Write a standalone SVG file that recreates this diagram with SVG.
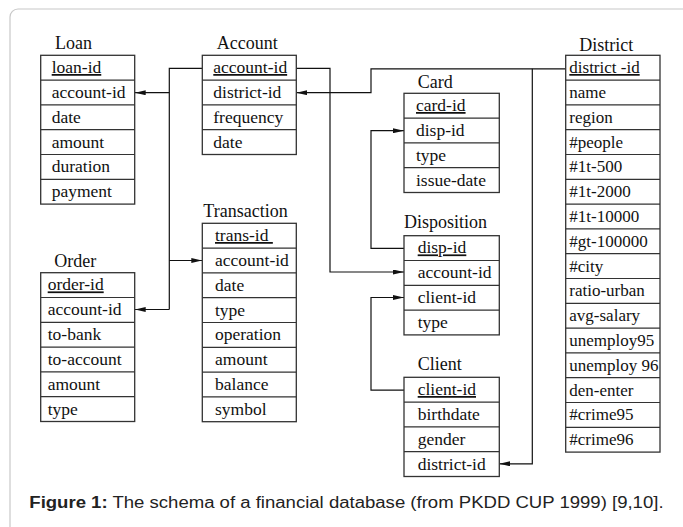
<svg xmlns="http://www.w3.org/2000/svg" width="683" height="527" viewBox="0 0 683 527">
<style>
.frame{fill:#fff;stroke:#c8c8c8;stroke-width:1.2}
.box{fill:#fff;stroke:#333;stroke-width:1.3}
.sep{stroke:#333;stroke-width:1.2}
.title{font-family:"Liberation Serif","Times New Roman",serif;font-size:18px;fill:#111}
.f{font-family:"Liberation Serif","Times New Roman",serif;font-size:17.5px;fill:#111}
.fd{font-family:"Liberation Serif","Times New Roman",serif;font-size:17px;fill:#111}
.key{text-decoration:underline}
.conn{fill:none;stroke:#111;stroke-width:1.2}
.cap{font-family:"Liberation Sans",Arial,sans-serif;font-size:16px;fill:#222}
</style>
<defs>
<marker id="ah" viewBox="0 0 11 5" refX="11" refY="2.5" markerWidth="11" markerHeight="5" orient="auto" markerUnits="userSpaceOnUse">
<path d="M0,0 L11,2.5 L0,5 z" fill="#111"/>
</marker>
</defs>
<rect class="frame" x="10" y="9" width="720" height="580" rx="8"/>

<g id="connectors">
<polyline class="conn" points="202.3,68.3 169.3,68.3 169.3,309.5"/>
<polyline class="conn" points="169.3,92.7 134.7,92.7" marker-end="url(#ah)"/>
<polyline class="conn" points="169.3,260.5 202.3,260.5" marker-end="url(#ah)"/>
<polyline class="conn" points="169.3,309.5 134.7,309.5" marker-end="url(#ah)"/>
<polyline class="conn" points="296.3,68.3 330,68.3 330,272 404,272" marker-end="url(#ah)"/>
<polyline class="conn" points="565.7,68.8 371,68.8 371,92.7 296.3,92.7" marker-end="url(#ah)"/>
<polyline class="conn" points="532.3,68.8 532.3,463.8 499.3,463.8" marker-end="url(#ah)"/>
<polyline class="conn" points="404,248.3 371,248.3 371,130.7 404,130.7" marker-end="url(#ah)"/>
<polyline class="conn" points="404,390.2 371,390.2 371,297.5 404,297.5" marker-end="url(#ah)"/>
</g>

<g id="loan">
<text class="title" x="55" y="49.3">Loan</text>
<rect class="box" x="40.7" y="55.3" width="94" height="148.8"/>
<path class="sep" d="M40.7,80.1H134.7M40.7,104.9H134.7M40.7,129.7H134.7M40.7,154.5H134.7M40.7,179.3H134.7"/>
<text class="f key" x="51.7" y="73">loan-id</text>
<text class="f" x="51.7" y="98">account-id</text>
<text class="f" x="51.7" y="122.8">date</text>
<text class="f" x="51.7" y="147.6">amount</text>
<text class="f" x="51.7" y="172.4">duration</text>
<text class="f" x="51.7" y="197.2">payment</text>
</g>

<g id="account">
<text class="title" x="216.7" y="49.3">Account</text>
<rect class="box" x="202.3" y="55.3" width="94" height="99.2"/>
<path class="sep" d="M202.3,80.1H296.3M202.3,104.9H296.3M202.3,129.7H296.3"/>
<text class="f key" x="213.3" y="73">account-id</text>
<text class="f" x="213.3" y="98">district-id</text>
<text class="f" x="213.3" y="122.8">frequency</text>
<text class="f" x="213.3" y="147.6">date</text>
</g>

<g id="card">
<text class="title" x="417.7" y="87.7">Card</text>
<rect class="box" x="404" y="93.3" width="95.3" height="99.2"/>
<path class="sep" d="M404,118.1H499.3M404,142.9H499.3M404,167.7H499.3"/>
<text class="f key" x="416" y="111">card-id</text>
<text class="f" x="416" y="136">disp-id</text>
<text class="f" x="416" y="160.8">type</text>
<text class="f" x="416" y="185.6">issue-date</text>
</g>

<g id="district">
<text class="title" x="579.3" y="50.5">District</text>
<rect class="box" x="565.7" y="55.3" width="94.3" height="396.8"/>
<path class="sep" d="M565.7,80.1H660M565.7,104.9H660M565.7,129.7H660M565.7,154.5H660M565.7,179.3H660M565.7,204.1H660M565.7,228.9H660M565.7,253.7H660M565.7,278.5H660M565.7,303.3H660M565.7,328.1H660M565.7,352.9H660M565.7,377.7H660M565.7,402.5H660M565.7,427.3H660"/>
<text class="fd key" x="569.3" y="73">district -id</text>
<text class="fd" x="569.3" y="98">name</text>
<text class="fd" x="569.3" y="122.8">region</text>
<text class="fd" x="569.3" y="147.6">#people</text>
<text class="fd" x="569.3" y="172.4">#1t-500</text>
<text class="fd" x="569.3" y="197.2">#1t-2000</text>
<text class="fd" x="569.3" y="222">#1t-10000</text>
<text class="fd" x="569.3" y="246.8">#gt-100000</text>
<text class="fd" x="569.3" y="271.6">#city</text>
<text class="fd" x="569.3" y="296.4">ratio-urban</text>
<text class="fd" x="569.3" y="321.2">avg-salary</text>
<text class="fd" x="569.3" y="346">unemploy95</text>
<text class="fd" x="569.3" y="370.8">unemploy 96</text>
<text class="fd" x="569.3" y="395.6">den-enter</text>
<text class="fd" x="569.3" y="420.4">#crime95</text>
<text class="fd" x="569.3" y="445.2">#crime96</text>
</g>

<g id="transaction">
<text class="title" x="203.3" y="216.7">Transaction</text>
<rect class="box" x="202.3" y="223.3" width="94" height="198.4"/>
<path class="sep" d="M202.3,248.1H296.3M202.3,272.9H296.3M202.3,297.7H296.3M202.3,322.5H296.3M202.3,347.3H296.3M202.3,372.1H296.3M202.3,396.9H296.3"/>
<text class="f key" x="215" y="241" style="white-space:pre">trans-id </text>
<text class="f" x="215" y="266">account-id</text>
<text class="f" x="215" y="290.8">date</text>
<text class="f" x="215" y="315.6">type</text>
<text class="f" x="215" y="340.4">operation</text>
<text class="f" x="215" y="365.2">amount</text>
<text class="f" x="215" y="390">balance</text>
<text class="f" x="215" y="414.8">symbol</text>
</g>

<g id="order">
<text class="title" x="54.3" y="266.7">Order</text>
<rect class="box" x="40.7" y="272.7" width="94" height="148.8"/>
<path class="sep" d="M40.7,297.5H134.7M40.7,322.3H134.7M40.7,347.1H134.7M40.7,371.9H134.7M40.7,396.7H134.7"/>
<text class="f key" x="47.7" y="290.4">order-id</text>
<text class="f" x="47.7" y="315.4">account-id</text>
<text class="f" x="47.7" y="340.2">to-bank</text>
<text class="f" x="47.7" y="365">to-account</text>
<text class="f" x="47.7" y="389.8">amount</text>
<text class="f" x="47.7" y="414.6">type</text>
</g>

<g id="disposition">
<text class="title" x="404" y="228.3">Disposition</text>
<rect class="box" x="404" y="235.7" width="95.3" height="99.2"/>
<path class="sep" d="M404,260.5H499.3M404,285.3H499.3M404,310.1H499.3"/>
<text class="f key" x="417.7" y="253.4">disp-id</text>
<text class="f" x="417.7" y="278.4">account-id</text>
<text class="f" x="417.7" y="303.2">client-id</text>
<text class="f" x="417.7" y="328">type</text>
</g>

<g id="client">
<text class="title" x="417.7" y="370">Client</text>
<rect class="box" x="404" y="377.3" width="95.3" height="99.2"/>
<path class="sep" d="M404,402.1H499.3M404,426.9H499.3M404,451.7H499.3"/>
<text class="f key" x="417.7" y="395">client-id</text>
<text class="f" x="417.7" y="420">birthdate</text>
<text class="f" x="417.7" y="444.8">gender</text>
<text class="f" x="417.7" y="469.6">district-id</text>
</g>

<text class="cap" transform="translate(29.3,507.5) scale(1.16,1)"><tspan font-weight="bold">Figure 1:</tspan> The schema of a financial database (from PKDD CUP 1999) [9,10].</text>
</svg>
